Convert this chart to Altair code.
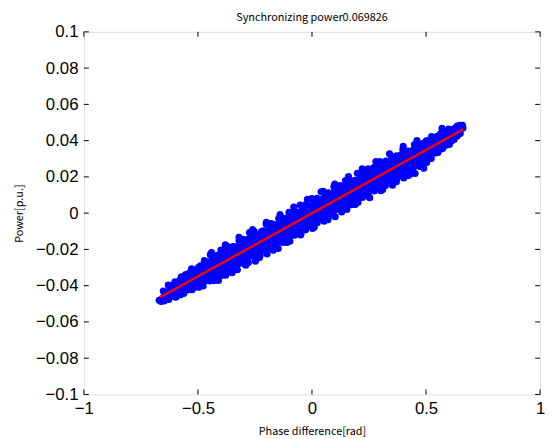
import altair as alt
import pandas as pd

# Measured scatter points (phase difference [rad], power [p.u.]) - first set
phase_a = [
    -0.670, -0.662, -0.655,
    -0.648, -0.645, -0.652,
    -0.628, -0.620, -0.624, -0.630,
    -0.597, -0.604, -0.595, -0.601,
    -0.578, -0.571, -0.575, -0.580, -0.573,
    -0.545, -0.552, -0.547, -0.554,
    -0.526, -0.519, -0.529, -0.523, -0.528,
    -0.496, -0.503, -0.499, -0.506, -0.497,
    -0.477, -0.470, -0.475, -0.479, -0.472,
    -0.447, -0.455, -0.448, -0.451, -0.446,
    -0.429, -0.423, -0.426, -0.420, -0.428,
    -0.398, -0.404, -0.396, -0.402, -0.399,
    -0.378, -0.372, -0.376, -0.370, -0.380, -0.373,
    -0.346, -0.352, -0.349, -0.354, -0.347,
    -0.327, -0.321, -0.329, -0.323, -0.326, -0.320,
    -0.297, -0.303, -0.300, -0.296, -0.302,
    -0.279, -0.273, -0.277, -0.270, -0.278, -0.274,
    -0.248, -0.253, -0.246, -0.251, -0.247, -0.254,
    -0.227, -0.221, -0.229, -0.224, -0.222,
    -0.197, -0.202, -0.199, -0.204, -0.196, -0.201,
    -0.178, -0.173, -0.176, -0.171, -0.179,
    -0.148, -0.154, -0.147, -0.152, -0.149, -0.146,
    -0.129, -0.122, -0.126, -0.123, -0.128,
    -0.097, -0.102, -0.096, -0.104, -0.099, -0.101,
    -0.077, -0.071, -0.078, -0.073, -0.079,
    -0.048, -0.053, -0.047, -0.051, -0.046, -0.052,
    -0.028, -0.023, -0.026, -0.021, -0.027,
    0.002, -0.003, 0.004, -0.002, 0.003, -0.001,
    0.023, 0.028, 0.021, 0.026, 0.022,
    0.053, 0.048, 0.052, 0.046, 0.054, 0.049,
    0.072, 0.079, 0.074, 0.078, 0.071,
    0.102, 0.097, 0.104, 0.098, 0.101, 0.096,
    0.123, 0.128, 0.121, 0.127, 0.124,
    0.153, 0.146, 0.152, 0.149, 0.154, 0.147,
    0.172, 0.177, 0.174, 0.179, 0.173,
    0.202, 0.197, 0.203, 0.198, 0.204, 0.199,
    0.221, 0.228, 0.224, 0.227, 0.222,
    0.253, 0.248, 0.254, 0.247, 0.251, 0.246,
    0.273, 0.279, 0.272, 0.277, 0.271,
    0.302, 0.297, 0.303, 0.299, 0.304, 0.298,
    0.322, 0.327, 0.321, 0.328, 0.324,
    0.353, 0.348, 0.352, 0.346, 0.354, 0.349,
    0.373, 0.378, 0.372, 0.377, 0.371,
    0.402, 0.397, 0.404, 0.399, 0.403, 0.398,
    0.422, 0.427, 0.423, 0.428, 0.421,
    0.452, 0.447, 0.453, 0.448, 0.454, 0.449,
    0.473, 0.478, 0.472, 0.477, 0.471,
    0.503, 0.498, 0.502, 0.497, 0.501,
    0.523, 0.528, 0.522, 0.527, 0.524,
    0.552, 0.547, 0.553, 0.549, 0.570,
    0.573, 0.578, 0.572, 0.577,
    0.602, 0.597, 0.603, 0.599,
    0.623, 0.628, 0.624,
    0.650, 0.653, 0.648,
    0.660, 0.662,
]
power_a = [
    -0.0480, -0.0487, -0.0468,
    -0.0484, -0.0454, -0.0429,
    -0.0476, -0.0446, -0.0416, -0.0396,
    -0.0464, -0.0434, -0.0409, -0.0379,
    -0.0451, -0.0421, -0.0396, -0.0371, -0.0351,
    -0.0424, -0.0394, -0.0364, -0.0339,
    -0.0422, -0.0392, -0.0367, -0.0337, -0.0307,
    -0.0409, -0.0379, -0.0354, -0.0329, -0.0299,
    -0.0402, -0.0367, -0.0332, -0.0302, -0.0262,
    -0.0374, -0.0339, -0.0304, -0.0274, -0.0229,
    -0.0372, -0.0337, -0.0307, -0.0272, -0.0237,
    -0.0344, -0.0309, -0.0279, -0.0249, -0.0204,
    -0.0342, -0.0307, -0.0277, -0.0247, -0.0217, -0.0182,
    -0.0314, -0.0279, -0.0249, -0.0219, -0.0184,
    -0.0312, -0.0277, -0.0247, -0.0217, -0.0187, -0.0152,
    -0.0279, -0.0244, -0.0209, -0.0179, -0.0144,
    -0.0272, -0.0237, -0.0202, -0.0172, -0.0142, -0.0107,
    -0.0265, -0.0230, -0.0195, -0.0160, -0.0130, -0.0100,
    -0.0232, -0.0197, -0.0167, -0.0137, -0.0102,
    -0.0225, -0.0190, -0.0155, -0.0125, -0.0095, -0.0060,
    -0.0192, -0.0157, -0.0122, -0.0092, -0.0057,
    -0.0195, -0.0160, -0.0125, -0.0095, -0.0065, -0.0030,
    -0.0162, -0.0127, -0.0092, -0.0062, -0.0027,
    -0.0155, -0.0120, -0.0090, -0.0060, -0.0030, 0.0005,
    -0.0122, -0.0087, -0.0057, -0.0022, 0.0013,
    -0.0115, -0.0080, -0.0050, -0.0020, 0.0010, 0.0045,
    -0.0092, -0.0057, -0.0022, 0.0013, 0.0048,
    -0.0085, -0.0050, -0.0015, 0.0015, 0.0045, 0.0080,
    -0.0053, -0.0018, 0.0017, 0.0047, 0.0082,
    -0.0045, -0.0010, 0.0025, 0.0055, 0.0085, 0.0120,
    -0.0023, 0.0012, 0.0047, 0.0077, 0.0112,
    -0.0020, 0.0015, 0.0050, 0.0080, 0.0110, 0.0145,
    0.0017, 0.0052, 0.0087, 0.0117, 0.0152,
    0.0020, 0.0055, 0.0090, 0.0120, 0.0150, 0.0180,
    0.0047, 0.0082, 0.0112, 0.0142, 0.0177,
    0.0060, 0.0095, 0.0125, 0.0155, 0.0185, 0.0220,
    0.0087, 0.0122, 0.0157, 0.0187, 0.0222,
    0.0085, 0.0120, 0.0155, 0.0185, 0.0215, 0.0245,
    0.0122, 0.0157, 0.0187, 0.0217, 0.0252,
    0.0124, 0.0159, 0.0194, 0.0224, 0.0254, 0.0284,
    0.0152, 0.0187, 0.0222, 0.0252, 0.0287,
    0.0154, 0.0189, 0.0224, 0.0254, 0.0284, 0.0314,
    0.0192, 0.0227, 0.0257, 0.0287, 0.0317,
    0.0194, 0.0229, 0.0264, 0.0294, 0.0324, 0.0349,
    0.0207, 0.0247, 0.0282, 0.0312, 0.0342,
    0.0219, 0.0254, 0.0289, 0.0319, 0.0349, 0.0379,
    0.0257, 0.0292, 0.0322, 0.0352, 0.0382,
    0.0279, 0.0314, 0.0344, 0.0374, 0.0399,
    0.0302, 0.0337, 0.0367, 0.0397, 0.0422,
    0.0334, 0.0364, 0.0394, 0.0424, 0.0468,
    0.0356, 0.0386, 0.0416, 0.0441,
    0.0379, 0.0409, 0.0439, 0.0464,
    0.0406, 0.0436, 0.0466,
    0.0439, 0.0464, 0.0484,
    0.0485, 0.0470,
]

# Second set of measured points (fills between the first set)
phase_b = [
    -0.637, -0.640,
    -0.612, -0.615, -0.610,
    -0.588, -0.585, -0.590,
    -0.562, -0.565, -0.560, -0.563,
    -0.537, -0.540, -0.535, -0.538,
    -0.512, -0.515, -0.510, -0.514,
    -0.487, -0.490, -0.485, -0.489,
    -0.462, -0.465, -0.460, -0.464,
    -0.437, -0.440, -0.435, -0.439,
    -0.412, -0.415, -0.410, -0.414,
    -0.387, -0.390, -0.385, -0.389,
    -0.362, -0.365, -0.360, -0.364,
    -0.337, -0.340, -0.335, -0.339,
    -0.312, -0.315, -0.310, -0.314,
    -0.287, -0.290, -0.285, -0.289,
    -0.262, -0.265, -0.260, -0.264,
    -0.237, -0.240, -0.235, -0.239,
    -0.212, -0.215, -0.210, -0.214,
    -0.187, -0.190, -0.185, -0.189,
    -0.162, -0.165, -0.160, -0.164,
    -0.137, -0.140, -0.135, -0.139,
    -0.112, -0.115, -0.110, -0.114,
    -0.087, -0.090, -0.085, -0.089,
    -0.062, -0.065, -0.060, -0.064,
    -0.037, -0.040, -0.035, -0.039,
    -0.012, -0.015, -0.010, -0.014,
    0.012, 0.015, 0.010, 0.014,
    0.037, 0.040, 0.035, 0.039,
    0.062, 0.065, 0.060, 0.064,
    0.087, 0.090, 0.085, 0.089,
    0.112, 0.115, 0.110, 0.114,
    0.137, 0.140, 0.135, 0.139,
    0.162, 0.165, 0.160, 0.164,
    0.187, 0.190, 0.185, 0.189,
    0.212, 0.215, 0.210, 0.214,
    0.237, 0.240, 0.235, 0.239,
    0.262, 0.265, 0.260, 0.264,
    0.287, 0.290, 0.285, 0.289,
    0.312, 0.315, 0.310, 0.314,
    0.337, 0.340, 0.335, 0.339,
    0.362, 0.365, 0.360, 0.364,
    0.387, 0.390, 0.385, 0.389,
    0.412, 0.415, 0.410, 0.414,
    0.437, 0.440, 0.435, 0.439,
    0.462, 0.465, 0.460, 0.464,
    0.487, 0.490, 0.485, 0.489,
    0.512, 0.515, 0.510, 0.514,
    0.537, 0.540, 0.535, 0.538,
    0.562, 0.565, 0.560, 0.563,
    0.588, 0.585, 0.590,
    0.612, 0.615, 0.610,
    0.637, 0.640, 0.636,
]
power_b = [
    -0.0470, -0.0440,
    -0.0458, -0.0428, -0.0398,
    -0.0445, -0.0415, -0.0385,
    -0.0443, -0.0408, -0.0378, -0.0358,
    -0.0420, -0.0390, -0.0360, -0.0330,
    -0.0408, -0.0373, -0.0343, -0.0313,
    -0.0395, -0.0360, -0.0325, -0.0290,
    -0.0373, -0.0338, -0.0303, -0.0268,
    -0.0360, -0.0325, -0.0290, -0.0255,
    -0.0338, -0.0303, -0.0268, -0.0233,
    -0.0325, -0.0290, -0.0255, -0.0220,
    -0.0313, -0.0278, -0.0243, -0.0208,
    -0.0291, -0.0256, -0.0221, -0.0186,
    -0.0273, -0.0238, -0.0203, -0.0168,
    -0.0261, -0.0226, -0.0191, -0.0156,
    -0.0238, -0.0203, -0.0168, -0.0133,
    -0.0226, -0.0191, -0.0156, -0.0121,
    -0.0203, -0.0168, -0.0133, -0.0098,
    -0.0191, -0.0156, -0.0121, -0.0086,
    -0.0168, -0.0133, -0.0098, -0.0063,
    -0.0156, -0.0121, -0.0086, -0.0051,
    -0.0134, -0.0099, -0.0064, -0.0029,
    -0.0121, -0.0086, -0.0051, -0.0016,
    -0.0099, -0.0064, -0.0029, 0.0006,
    -0.0086, -0.0051, -0.0016, 0.0019,
    -0.0064, -0.0029, 0.0006, 0.0041,
    -0.0041, -0.0006, 0.0029, 0.0064,
    -0.0029, 0.0006, 0.0041, 0.0076,
    -0.0006, 0.0029, 0.0064, 0.0099,
    0.0006, 0.0041, 0.0076, 0.0111,
    0.0029, 0.0064, 0.0099, 0.0134,
    0.0041, 0.0076, 0.0111, 0.0146,
    0.0063, 0.0098, 0.0133, 0.0168,
    0.0076, 0.0111, 0.0146, 0.0181,
    0.0098, 0.0133, 0.0168, 0.0203,
    0.0111, 0.0146, 0.0181, 0.0216,
    0.0133, 0.0168, 0.0203, 0.0238,
    0.0146, 0.0181, 0.0216, 0.0251,
    0.0168, 0.0203, 0.0238, 0.0273,
    0.0181, 0.0216, 0.0251, 0.0286,
    0.0203, 0.0238, 0.0273, 0.0308,
    0.0215, 0.0250, 0.0285, 0.0320,
    0.0228, 0.0263, 0.0298, 0.0333,
    0.0240, 0.0275, 0.0310, 0.0345,
    0.0263, 0.0298, 0.0333, 0.0368,
    0.0285, 0.0320, 0.0355, 0.0385,
    0.0308, 0.0343, 0.0378, 0.0403,
    0.0330, 0.0360, 0.0390, 0.0415,
    0.0353, 0.0383, 0.0413, 0.0438,
    0.0375, 0.0405, 0.0435,
    0.0398, 0.0428, 0.0458,
    0.0425, 0.0455, 0.0480,
]

# Outlying points on the upper and lower edges of the cloud
phase_c = [
    -0.44, -0.38, -0.32, -0.26, -0.20, -0.14, -0.08, -0.02,
    0.04, 0.10, 0.16, 0.22, 0.28, 0.34, 0.40, 0.46,
    -0.41, -0.35, -0.29, -0.23, -0.17, -0.11, -0.05, 0.01,
    0.07, 0.13, 0.19, 0.25, 0.31, 0.37, 0.43, 0.49,
]
power_c = [
    -0.0217, -0.0175, -0.0133, -0.0091, -0.0050, -0.0008, 0.0034, 0.0076,
    0.0118, 0.0160, 0.0202, 0.0244, 0.0285, 0.0327, 0.0369, 0.0401,
    -0.0371, -0.0329, -0.0287, -0.0245, -0.0204, -0.0162, -0.0120, -0.0078,
    -0.0036, 0.0006, 0.0048, 0.0090, 0.0131, 0.0173, 0.0215, 0.0247,
]

# Fitted line end points (slope 0.069826)
fit_phase = [-0.665, 0.663]
fit_power = [-0.0464, 0.0463]

x_ticks = [-1, -0.5, 0, 0.5, 1]
y_ticks = [-0.1, -0.08, -0.06, -0.04, -0.02, 0, 0.02, 0.04, 0.06, 0.08, 0.1]

W, H = 463, 368

pts = pd.DataFrame({
    "phase": phase_a + phase_b + phase_c,
    "power": power_a + power_b + power_c,
})
fit = pd.DataFrame({"phase": fit_phase, "power": fit_power})
xt = pd.DataFrame({"phase": x_ticks})
yt = pd.DataFrame({"power": y_ticks})

xscale = alt.Scale(domain=[-1, 1], nice=False, zero=False)
yscale = alt.Scale(domain=[-0.1, 0.1], nice=False, zero=False)

label_font = "Liberation Sans"
title_font = "Noto Sans CJK JP"

x_axis = alt.Axis(
    values=x_ticks, format="~g", ticks=False, grid=False,
    labelFont=label_font, labelFontSize=17, labelColor="black", labelPadding=6,
    labelFlush=False, labelOverlap=False,
    title="Phase difference[rad]", titleFont=title_font, titleFontSize=11,
    titleFontWeight="normal", titleColor="black", titlePadding=10,
    domain=False,
)
y_axis = alt.Axis(
    values=y_ticks, format="~g", ticks=False, grid=False,
    labelFont=label_font, labelFontSize=17, labelColor="black", labelPadding=6,
    labelFlush=False, labelOverlap=False,
    title="Power[p.u.]", titleFont=title_font, titleFontSize=11,
    titleFontWeight="normal", titleColor="black", titlePadding=11,
    domain=False,
)

X = alt.X("phase:Q", scale=xscale, axis=x_axis)
Y = alt.Y("power:Q", scale=yscale, axis=y_axis)

points = alt.Chart(pts).mark_circle(size=52, color="#0000FF", opacity=1).encode(x=X, y=Y)

line = alt.Chart(fit).mark_line(color="#FF0000", strokeWidth=2.5).encode(x=X, y=Y)

tick_style = dict(color="black", strokeWidth=1)
xt_bottom = alt.Chart(xt).mark_rule(**tick_style).encode(
    x=X, y=alt.value(H), y2=alt.value(H - 5))
xt_top = alt.Chart(xt).mark_rule(**tick_style).encode(
    x=X, y=alt.value(0), y2=alt.value(5))
yt_left = alt.Chart(yt).mark_rule(**tick_style).encode(
    y=Y, x=alt.value(0), x2=alt.value(5))
yt_right = alt.Chart(yt).mark_rule(**tick_style).encode(
    y=Y, x=alt.value(W), x2=alt.value(W - 5))

chart = alt.layer(points, line, xt_bottom, xt_top, yt_left, yt_right).properties(
    width=W, height=H,
    title=alt.TitleParams(
        text="Synchronizing power0.069826", font=title_font, fontSize=11,
        fontWeight="normal", color="black", anchor="middle", offset=0,
        frame="group",
    ),
    autosize=alt.AutoSizeParams(type="none"),
    padding={"left": 77, "top": 21, "right": 7, "bottom": 42},
).configure_view(stroke="black", strokeWidth=1.5).configure(background="white")

chart.save("out.html", embed_options={"renderer": "svg", "actions": False})
